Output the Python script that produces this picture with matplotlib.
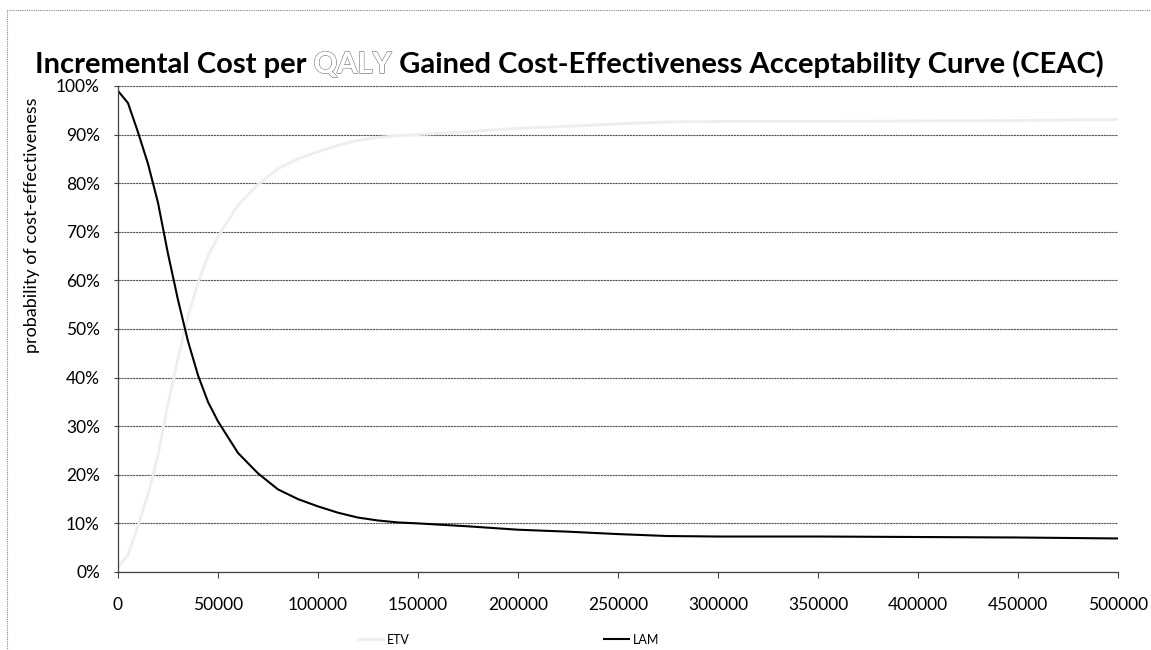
import matplotlib
matplotlib.use("Agg")
import matplotlib.pyplot as plt
import matplotlib.patheffects as pe
from matplotlib.patches import Rectangle
from matplotlib.ticker import FuncFormatter, MultipleLocator

# willingness-to-pay thresholds and probability of being cost-effective (%)
wtp = [0, 5000, 10000, 15000, 20000, 25000, 30000, 35000, 40000, 45000,
       50000, 60000, 70000, 80000, 90000, 100000, 110000, 120000, 130000,
       140000, 150000, 175000, 200000, 225000, 250000, 275000, 300000,
       350000, 400000, 450000, 500000]
lam = [99, 96.5, 90.5, 84, 76, 65.5, 56, 47.5, 40.5, 35,
       31, 24.5, 20.3, 17, 15, 13.5, 12.2, 11.2, 10.6,
       10.2, 10.0, 9.4, 8.7, 8.3, 7.8, 7.4, 7.3,
       7.3, 7.2, 7.1, 6.9]
etv = [1, 3.5, 9.5, 16, 24, 34.5, 44, 52.5, 59.5, 65,
       69, 75.5, 79.7, 83, 85, 86.5, 87.8, 88.8, 89.4,
       89.8, 90, 90.6, 91.3, 91.7, 92.2, 92.6, 92.7,
       92.7, 92.8, 92.9, 93.1]

plt.rcParams['font.family'] = ['Lato', 'DejaVu Sans']

fig = plt.figure(figsize=(11.51, 6.5), dpi=100)
ax = fig.add_axes([0.1025, 0.12, 0.8688, 0.7477])

# dotted chart frame
fig.patches.append(Rectangle((7 / 1151, -0.02), 1.0, 1 - 10 / 650 + 0.02,
                             transform=fig.transFigure, fill=False,
                             edgecolor='#888888', linewidth=0.8,
                             linestyle=(0, (1, 1))))

ax.plot(wtp, etv, color='#eeeeee', linewidth=2.0, label='ETV')
ax.plot(wtp, lam, color='black', linewidth=1.5, label='LAM')

ax.set_xlim(0, 500000)
ax.set_ylim(0, 100)
ax.xaxis.set_major_locator(MultipleLocator(50000))
ax.yaxis.set_major_locator(MultipleLocator(10))
ax.yaxis.set_major_formatter(FuncFormatter(lambda v, p: f"{v:.0f}%"))
ax.xaxis.set_major_formatter(FuncFormatter(lambda v, p: f"{v:.0f}"))

ax.grid(axis='y', color='#555555', linewidth=0.8, linestyle=(0, (2, 0.6)))
ax.set_axisbelow(True)
for s in ['top', 'right']:
    ax.spines[s].set_visible(False)
ax.spines['left'].set_color('#444444')
ax.spines['bottom'].set_color('#444444')
ax.spines['left'].set_linewidth(0.9)
ax.spines['bottom'].set_linewidth(0.9)

ax.tick_params(axis='y', length=3, width=0.8, pad=10, labelsize=12.5,
               color='#444444')
ax.tick_params(axis='x', length=4, width=0.8, pad=14, labelsize=12.5,
               color='#444444')

ax.set_ylabel('probability of cost-effectiveness', fontsize=13)
ax.yaxis.set_label_coords(-0.078, 0.714)

# title with outlined "QALY"
tsize = 21
t1 = fig.text(35 / 1151, 1 - 73 / 650, 'Incremental Cost per ',
              fontsize=tsize, fontweight='bold', ha='left', va='baseline')
t2 = ax.annotate('QALY', xy=(1, 0), xycoords=t1, ha='left', va='bottom',
                 fontsize=tsize, fontweight='bold', color='white',
                 annotation_clip=False)
t2.set_path_effects([pe.withStroke(linewidth=1.0, foreground='#777777'),
                     pe.Normal()])
ax.annotate(' Gained Cost-Effectiveness Acceptability Curve (CEAC)',
            xy=(1, 0), xycoords=t2, ha='left', va='bottom',
            fontsize=tsize, fontweight='bold', annotation_clip=False)

fig.legend(loc='center', bbox_to_anchor=(0.442, 0.016), ncol=2,
           frameon=False, fontsize=9, handlelength=2.0, handletextpad=0.3,
           columnspacing=15.6)

fig.savefig('out.png', dpi=100)
